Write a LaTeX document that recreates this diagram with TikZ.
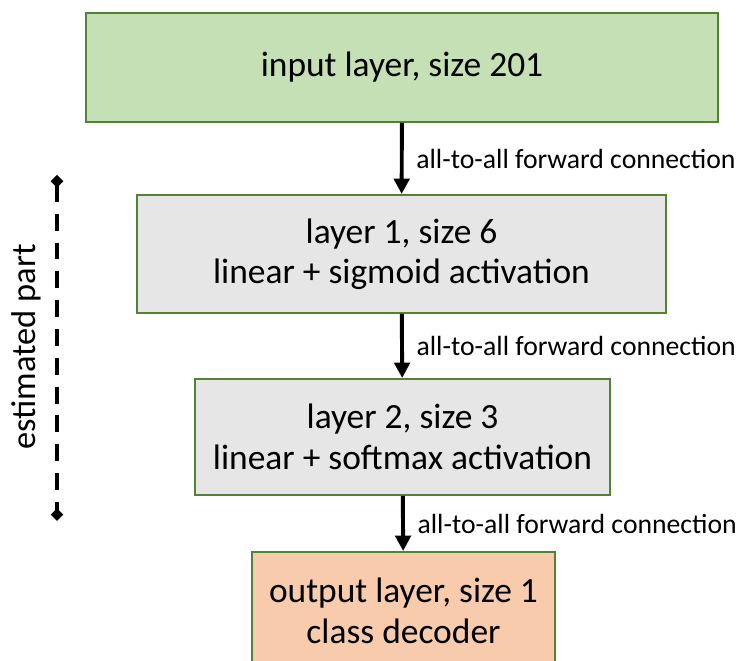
\documentclass[tikz,border=0pt]{standalone}
\usepackage{fontspec}
\setmainfont{Carlito}
\usetikzlibrary{arrows.meta}
\definecolor{ingreen}{HTML}{C5E0B4}
\definecolor{hidgray}{HTML}{E7E6E6}
\definecolor{outpeach}{HTML}{F8CBAD}
\definecolor{edgegreen}{HTML}{548235}

\tikzset{
  layerbox/.style={draw=edgegreen, line width=1.4pt, align=center,
    font=\fontsize{25.2}{28.8}\selectfont, inner sep=0pt},
  fwd/.style={line width=2.8pt, -{Triangle[length=11pt, width=11pt]}},
  fwdlabel/.style={font=\fontsize{19.7}{23}\selectfont, right, inner sep=0pt, xshift=9pt}
}

\begin{document}
\begin{tikzpicture}[x=0.025cm, y=-0.025cm]

% Canvas
\useasboundingbox (0,0) rectangle (738,661);

% Layers
\node[layerbox, fill=ingreen, minimum width=632*0.025cm, minimum height=109*0.025cm]
  (inlayer) at (402,67.5) {input layer, size 201};
\node[layerbox, fill=hidgray, minimum width=529*0.025cm, minimum height=118*0.025cm]
  (hidone) at (401.5,254) {layer 1, size 6\\linear + sigmoid activation};
\node[layerbox, fill=hidgray, minimum width=415*0.025cm, minimum height=116*0.025cm]
  (hidtwo) at (402.5,437) {layer 2, size 3\\linear + softmax activation};
\node[layerbox, fill=outpeach, minimum width=303*0.025cm, minimum height=118*0.025cm]
  (outlayer) at (403.5,611) {output layer, size 1\\class decoder};

% Forward connections
\draw[fwd] (inlayer) -- (hidone)
  node[fwdlabel, midway] {all-to-all forward connection};
\draw[fwd] (hidone) -- (hidtwo)
  node[fwdlabel, midway] {all-to-all forward connection};
\draw[fwd] (hidtwo) -- (outlayer)
  node[fwdlabel, midway] {all-to-all forward connection};

% Estimated part marker
\coordinate (esttop) at (57,175);
\coordinate (estbot) at (57,521);
\draw[line width=2.8pt, dash pattern=on 12pt off 8.5pt,
      {Diamond[length=9pt, width=9pt]}-{Diamond[length=9pt, width=9pt]}]
  (esttop) -- (estbot);
\node[rotate=90, font=\fontsize{24.5}{28.5}\selectfont] (estlabel) at (26,347) {estimated part};

\end{tikzpicture}
\end{document}
